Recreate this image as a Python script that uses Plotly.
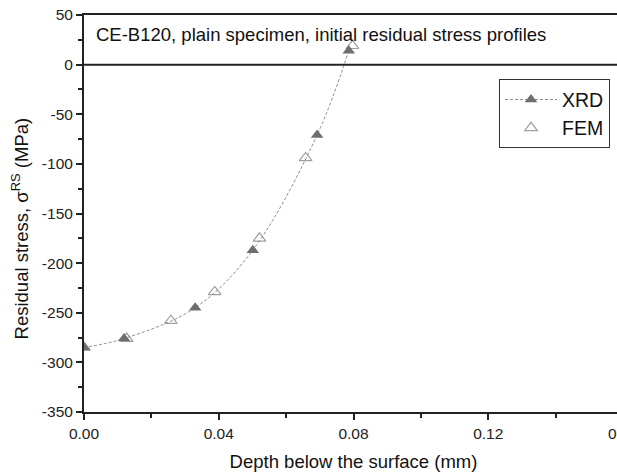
import plotly.graph_objects as go

# Initial residual stress profiles, CE-B120 plain specimen
xrd_depth = [0.0, 0.0119, 0.0330, 0.0501, 0.0692, 0.0786]
xrd_stress = [-285, -276, -245, -187, -71, 14]

fem_depth = [0.0, 0.0127, 0.0258, 0.0388, 0.0521, 0.0658, 0.0797]
fem_stress = [-285, -276, -258, -229, -175, -94, 19]

x_ticks = [0.0, 0.04, 0.08, 0.12, 0.16]
x_ticklabels = ["0.00", "0.04", "0.08", "0.12", "0.16"]
y_ticks = [-350, -300, -250, -200, -150, -100, -50, 0, 50]
y_ticklabels = ["-350", "-300", "-250", "-200", "-150", "-100", "-50", "0", "50"]

font_family = "Arial, Liberation Sans, sans-serif"
axis_color = "#222222"
text_color = "#111111"

fig = go.Figure()

fig.add_trace(go.Scatter(
    x=fem_depth, y=fem_stress, mode="markers", name="FEM",
    marker=dict(symbol="triangle-up-open", size=11, color="#a0a0a0",
                line=dict(width=1.2, color="#a0a0a0")),
    showlegend=False,
))
fig.add_trace(go.Scatter(
    x=xrd_depth, y=xrd_stress, mode="lines+markers", name="XRD",
    line=dict(color="#8c8c8c", width=1, dash="3px,2px", shape="spline"),
    marker=dict(symbol="triangle-up", size=11, color="#6e6e6e"),
))
# legend-only entry for FEM so the order reads XRD then FEM
fig.add_trace(go.Scatter(
    x=[None], y=[None], mode="markers", name="FEM",
    marker=dict(symbol="triangle-up-open", size=11, color="#a0a0a0",
                line=dict(width=1.2, color="#a0a0a0")),
))

# zero-stress reference line
fig.add_shape(type="line", xref="paper", yref="y", x0=0, x1=1, y0=0, y1=0,
              line=dict(color=axis_color, width=2))

fig.add_annotation(
    xref="paper", yref="y", x=0.018, y=30, xanchor="left", yanchor="middle",
    text="CE-B120, plain specimen, initial residual stress profiles",
    showarrow=False, font=dict(size=18.5, color=text_color, family=font_family),
)

# y-axis title drawn as a rotated annotation
fig.add_annotation(
    xref="paper", yref="paper", x=-0.119, y=0.462, xanchor="center", yanchor="middle",
    text="Residual stress, σ<sup>RS</sup> (MPa)", textangle=-90,
    showarrow=False, font=dict(size=18.5, color=text_color, family=font_family),
)

fig.update_xaxes(
    range=[0, 0.16], tickvals=x_ticks, ticktext=x_ticklabels,
    showgrid=False, zeroline=False, automargin=False,
    showline=True, linecolor=axis_color, linewidth=2, mirror=True,
    ticks="outside", ticklen=6, tickwidth=1.5, tickcolor=axis_color,
    minor=dict(dtick=0.02, ticks="outside", ticklen=4, tickwidth=1.5, tickcolor=axis_color),
    tickfont=dict(size=15.5, color="#222222", family=font_family),
    title=dict(text="Depth below the surface (mm)", standoff=14,
               font=dict(size=18.5, color=text_color, family=font_family)),
)
fig.update_yaxes(
    range=[-350, 50], tickvals=y_ticks, ticktext=y_ticklabels,
    showgrid=False, zeroline=False, automargin=False,
    showline=True, linecolor=axis_color, linewidth=2, mirror=True,
    ticks="outside", ticklen=6, tickwidth=1.5, tickcolor=axis_color,
    minor=dict(dtick=25, ticks="outside", ticklen=4, tickwidth=1.5, tickcolor=axis_color),
    tickfont=dict(size=15.5, color="#222222", family=font_family),
)

fig.update_layout(
    width=640, height=472,
    margin=dict(l=84, r=17, t=15, b=60),
    plot_bgcolor="white", paper_bgcolor="white",
    legend=dict(
        x=0.770, y=0.838, xanchor="left", yanchor="top",
        bgcolor="white", bordercolor="#333333", borderwidth=1,
        font=dict(size=19.5, color=text_color, family=font_family),
        itemwidth=52, tracegroupgap=0,
    ),
    font=dict(family=font_family),
)

fig.write_html("out.html",
               post_script="document.documentElement.style.overflow='hidden';"
                           "document.body.style.overflow='hidden';")
